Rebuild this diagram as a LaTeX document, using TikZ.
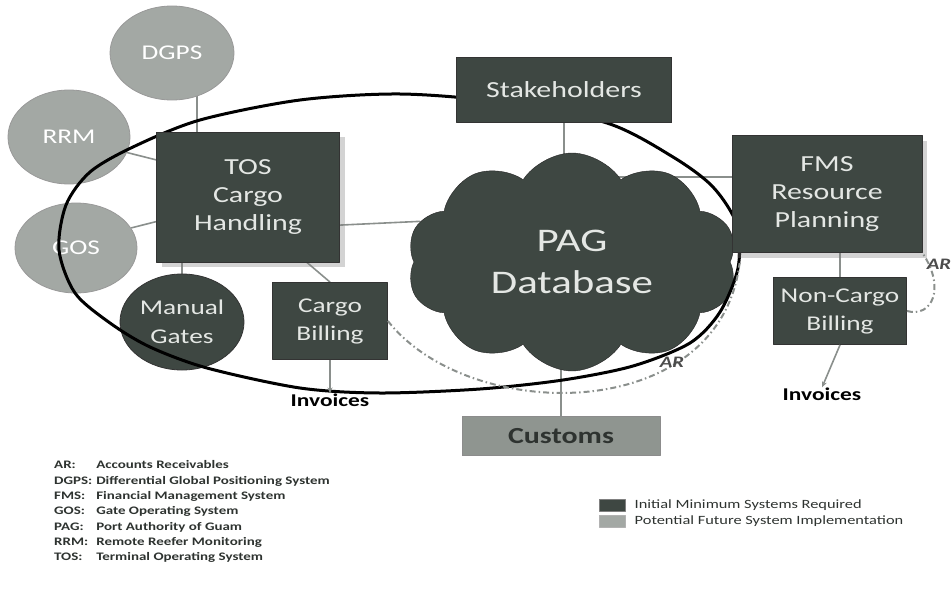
\documentclass[tikz,border=0pt]{standalone}
\usepackage{fontspec}
\setmainfont[FakeStretch=1.3]{Carlito}
\usetikzlibrary{shapes.geometric,shapes.symbols,arrows.meta,shadows,backgrounds}
\definecolor{darkbox}{HTML}{3E4742}
\definecolor{lightbox}{HTML}{A3A8A4}
\definecolor{linkgray}{HTML}{8A8F8C}
\definecolor{boxtext}{HTML}{E4E7E4}
\definecolor{customsgray}{HTML}{8F9590}
\definecolor{legendtext}{HTML}{2E3330}

\begin{document}
\begin{tikzpicture}[x=1pt, y=-1pt, line join=round,
  sys/.style = {draw=black!80, fill=darkbox, text=boxtext, align=center, inner sep=0pt, line width=0.8pt,
                font=\fontsize{23}{28}\selectfont},
  shadowed/.style = {drop shadow={opacity=0.35, shadow xshift=5pt, shadow yshift=-5pt}},
  future/.style = {ellipse, draw=black!40, fill=lightbox, text=white, inner sep=0pt, line width=0.8pt,
                   font=\fontsize{21}{26}\selectfont},
  gate/.style = {ellipse, draw=black!80, fill=darkbox, text=boxtext, align=center, inner sep=0pt, line width=0.8pt,
                 font=\fontsize{21}{29}\selectfont},
  link/.style = {draw=linkgray, line width=1.6pt},
  arlink/.style = {draw=linkgray, line width=2pt, dash pattern=on 6pt off 3pt on 1.5pt off 3pt},
  arlabel/.style = {text=black!70, font=\fontsize{16}{16}\selectfont\bfseries\itshape, inner sep=0pt},
  invoice/.style = {text=black, font=\fontsize{18}{18}\selectfont\bfseries, inner sep=0pt},
  swatch/.style = {draw=black!50, minimum width=26pt, minimum height=12pt, inner sep=0pt}]
  \useasboundingbox (0,0) rectangle (952,594);

  \node[future, minimum width=124pt, minimum height=94pt] (dgps) at (172,53) {DGPS};
  \node[future, minimum width=122pt, minimum height=94pt] (rrm) at (69,137) {RRM};
  \node[future, minimum width=122pt, minimum height=90pt] (gos) at (76,248) {GOS};
  \node[gate, minimum width=124pt, minimum height=96pt] (manual) at (182,322) {Manual\\Gates};
  \node[cloud, cloud puffs=10, cloud puff arc=115, cloud ignores aspect, draw=black!85, fill=darkbox, text=boxtext,
        align=center, inner sep=0pt, minimum width=330pt, minimum height=218pt,
        font=\fontsize{33}{42}\selectfont] (pag) at (572,262) {PAG\\Database};

  \draw[black, line width=3pt] plot[smooth cycle, tension=0.5] coordinates {
    (59,250) (66,205) (90,172) (133,147) (200,120) (300,100) (400,94) (500,102)
    (607,123) (673,157) (713,187) (737,225) (738,268) (720,312) (690,343) (633,366)
    (563,380) (480,389) (380,393) (300,388) (207,368) (150,347) (110,323) (75,293)};

  \node[sys, shadowed, minimum width=183pt, minimum height=130pt] (tos) at (248,197) {TOS\\Cargo\\Handling};
  \node[sys, minimum width=115pt, minimum height=77pt, font=\fontsize{21}{28}\selectfont] (cbill) at (330,321) {Cargo\\Billing};
  \node[sys, minimum width=215pt, minimum height=65pt] (stake) at (564,90) {Stakeholders};
  \node[sys, shadowed, minimum width=190pt, minimum height=117pt] (fms) at (827,194) {FMS\\Resource\\Planning};
  \node[sys, minimum width=133pt, minimum height=67pt, font=\fontsize{21}{28}\selectfont] (ncbill) at (840,311) {Non-Cargo\\Billing};
  \node[draw=black!45, fill=customsgray, text=legendtext, inner sep=0pt, minimum width=198pt, minimum height=39pt,
        font=\fontsize{23}{23}\selectfont\bfseries] (customs) at (561,436) {Customs};

  \node[invoice] (inv1) at (330,400) {Invoices};
  \node[invoice] (inv2) at (822,394) {Invoices};

  \begin{pgfonlayer}{background}
    \draw[link] (dgps.-60) -- (dgps.-60 |- tos.north);
    \draw[link] (rrm.-15) -- (tos.158);
    \draw[link] (gos.20) -- (tos.195);
    \draw[link] (manual.north) -- (manual.north |- tos.south);
    \draw[link] (tos.-48) -- (cbill.north);
    \draw[link] (tos.-17) -- (pag.165);
    \draw[link] (stake.south) -- (stake.south |- pag.center);
    \draw[link] (fms.170) -- (pag.center |- fms.170);
    \draw[link] (ncbill.north) -- (ncbill.north |- fms.south);
    \draw[link] (customs.north) -- (customs.north |- pag.center);
  \end{pgfonlayer}

  \draw[link, -{Stealth[length=6pt,width=5pt]}] (cbill.south) -- (inv1.north);
  \draw[link, -{Stealth[length=6pt,width=5pt]}] (ncbill.south) -- (inv2.north);

  \coordinate (arend) at ([xshift=8pt, yshift=-10pt]fms.south west);
  \draw[arlink] (cbill.east) .. controls (470,425) and (720,425) .. (arend);
  \draw[arlink] (ncbill.east) .. controls (932,318) and (946,288) .. (fms.south east);
  \node[arlabel] (ar1) at (672,362) {AR};
  \node[arlabel] (ar2) at (939,264) {AR};

  \node[anchor=north west, inner sep=0pt, text=legendtext, font=\fontsize{11.5}{15.3}\selectfont\bfseries] (abbrevs) at (54,458)
    {\begin{tabular}{@{}l@{\hspace{4pt}}l@{}}
      AR: & Accounts Receivables\\
      DGPS: & Differential Global Positioning System\\
      FMS: & Financial Management System\\
      GOS: & Gate Operating System\\
      PAG: & Port Authority of Guam\\
      RRM: & Remote Reefer Monitoring\\
      TOS: & Terminal Operating System
    \end{tabular}};

  \node[swatch, fill=darkbox] (sw1) at (612,505) {};
  \node[swatch, fill=lightbox, draw=black!30] (sw2) at (612,521) {};
  \node[anchor=west, text=legendtext, font=\fontsize{12.6}{13}\selectfont] (key1) at ([xshift=6pt]sw1.east) {Initial Minimum Systems Required};
  \node[anchor=west, text=legendtext, font=\fontsize{12.6}{13}\selectfont] (key2) at ([xshift=6pt]sw2.east) {Potential Future System Implementation};
\end{tikzpicture}
\end{document}
